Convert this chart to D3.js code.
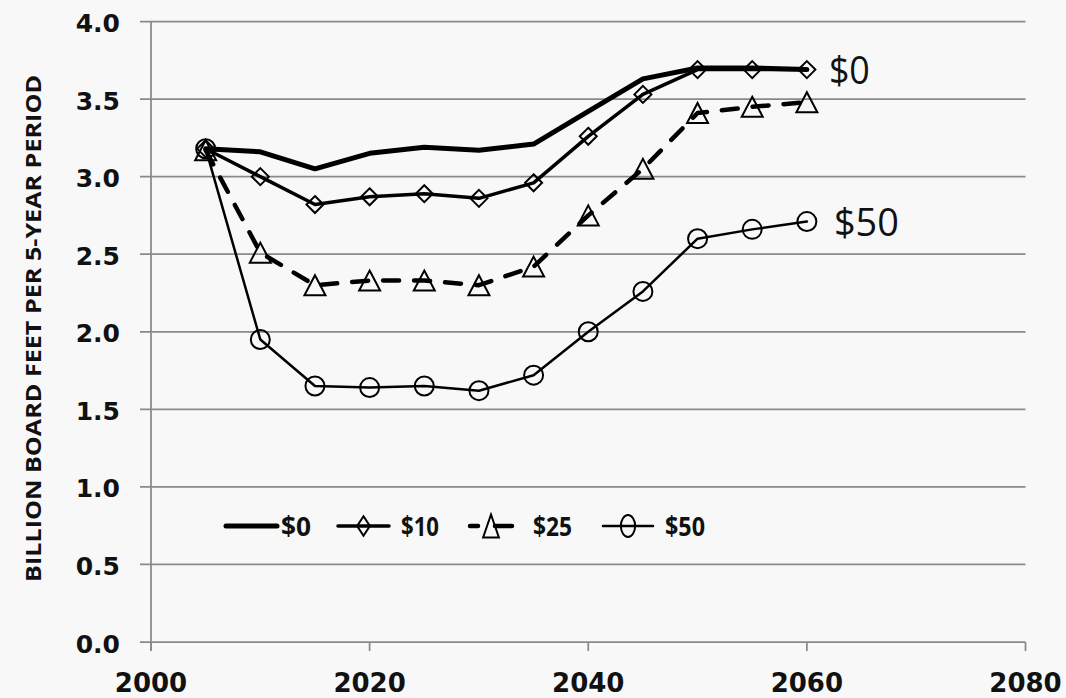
<!DOCTYPE html>
<html>
<head>
<meta charset="utf-8">
<script src="https://cdn.jsdelivr.net/npm/d3@7"></script>
<style>
  html, body { margin: 0; padding: 0; background: #f8f8f8; }
  svg { display: block; }
</style>
</head>
<body>
<svg id="chart" width="1066" height="698"></svg>
<script>
const years = [2005, 2010, 2015, 2020, 2025, 2030, 2035, 2040, 2045, 2050, 2055, 2060];
const s0  = [3.18, 3.16, 3.05, 3.15, 3.19, 3.17, 3.21, 3.42, 3.63, 3.70, 3.70, 3.69];
const s10 = [3.18, 3.00, 2.82, 2.87, 2.89, 2.86, 2.96, 3.26, 3.53, 3.69, 3.69, 3.69];
const s25 = [3.17, 2.51, 2.30, 2.33, 2.33, 2.30, 2.42, 2.75, 3.05, 3.41, 3.45, 3.48];
const s50 = [3.18, 1.95, 1.65, 1.64, 1.65, 1.62, 1.72, 2.00, 2.26, 2.60, 2.66, 2.71];
const seriesNames = ["$0", "$10", "$25", "$50"];
const xTicks = [2000, 2020, 2040, 2060, 2080];
const yTicks = [0, 0.5, 1.0, 1.5, 2.0, 2.5, 3.0, 3.5, 4.0];
const yTitle = "BILLION BOARD FEET PER 5-YEAR PERIOD";

const svg = d3.select("#chart");
const x = d3.scaleLinear().domain([2000, 2080]).range([151, 1025.5]);
const y = d3.scaleLinear().domain([0, 4]).range([642, 21.5]);

const gridColor = "#8a8a8a";

// gridlines
svg.append("g").selectAll("line").data(yTicks).join("line")
  .attr("x1", 140).attr("x2", x(2080))
  .attr("y1", d => y(d)).attr("y2", d => y(d))
  .attr("stroke", gridColor).attr("stroke-width", 1.75);

// y axis line
svg.append("line").attr("x1", x(2000)).attr("x2", x(2000))
  .attr("y1", y(4)).attr("y2", 651)
  .attr("stroke", gridColor).attr("stroke-width", 1.75);

// x ticks
svg.append("g").selectAll("line").data(xTicks).join("line")
  .attr("x1", d => x(d)).attr("x2", d => x(d))
  .attr("y1", y(0)).attr("y2", 651)
  .attr("stroke", gridColor).attr("stroke-width", 1.75);

// y tick labels
svg.append("g").selectAll("text").data(yTicks).join("text")
  .attr("x", 120).attr("y", d => y(d) + 2)
  .attr("text-anchor", "end").attr("dominant-baseline", "central")
  .attr("font-family", "DejaVu Sans").attr("font-weight", "bold")
  .attr("font-size", 25).attr("fill", "#111")
  .text(d => d.toFixed(1));

// x tick labels
svg.append("g").selectAll("text").data(xTicks).join("text")
  .attr("x", d => x(d)).attr("y", 692)
  .attr("text-anchor", "middle")
  .attr("font-family", "DejaVu Sans").attr("font-weight", "bold")
  .attr("font-size", 26).attr("fill", "#111")
  .text(d => d);

// y title
svg.append("text")
  .attr("transform", "translate(41,328.5) rotate(-90)")
  .attr("text-anchor", "middle")
  .attr("font-family", "Open Sans").attr("font-weight", "bold")
  .attr("font-size", 21).attr("fill", "#111")
  .attr("textLength", 507).attr("lengthAdjust", "spacingAndGlyphs")
  .text(yTitle);

const line = d3.line().x((d, i) => x(years[i])).y(d => y(d));

const styles = [
  { data: s0,  w: 5,   dash: null,    marker: null },
  { data: s10, w: 3.5, dash: null,    marker: "diamond" },
  { data: s25, w: 4.5, dash: "16,15", marker: "triangle" },
  { data: s50, w: 2.5, dash: null,    marker: "circle" }
];

function markerPath(type, sx, sy) {
  sx = sx || 1; sy = sy || 1;
  if (type === "diamond") {
    const a = 8.5;
    return `M0,${-a*sy}L${a*sx},0L0,${a*sy}L${-a*sx},0Z`;
  }
  if (type === "triangle") {
    const h = 20, w = 21;
    return `M0,${-h/2*sy}L${w/2*sx},${h/2*sy}L${-w/2*sx},${h/2*sy}Z`;
  }
  if (type === "circle") {
    const r = 9.5;
    return `M${-r*sx},0A${r*sx},${r*sy} 0 1,0 ${r*sx},0A${r*sx},${r*sy} 0 1,0 ${-r*sx},0Z`;
  }
  return "";
}

// draw from back to front: $50, $25, $10, $0
[3, 2, 1, 0].forEach(k => {
  const st = styles[k];
  const g = svg.append("g");
  g.append("path").datum(st.data)
    .attr("d", line)
    .attr("fill", "none").attr("stroke", "#000")
    .attr("stroke-width", st.w)
    .attr("stroke-linejoin", "round")
    .attr("stroke-linecap", "round")
    .attr("stroke-dasharray", st.dash);
  if (st.marker) {
    g.selectAll("path.m").data(st.data).join("path").attr("class", "m")
      .attr("transform", (d, i) => `translate(${x(years[i])},${y(d)})`)
      .attr("d", markerPath(st.marker))
      .attr("fill", "none").attr("stroke", "#000").attr("stroke-width", 2);
  }
});

// end labels
svg.append("text").attr("x", x(2060) + 22).attr("y", y(s0[11]) + 14)
  .attr("font-family", "Open Sans").attr("font-size", 39).attr("fill", "#111")
  .attr("textLength", 41).attr("lengthAdjust", "spacingAndGlyphs")
  .text(seriesNames[0]);
svg.append("text").attr("x", x(2060) + 27).attr("y", y(s50[11]) + 14)
  .attr("font-family", "Open Sans").attr("font-size", 39).attr("fill", "#111")
  .attr("textLength", 65).attr("lengthAdjust", "spacingAndGlyphs")
  .text(seriesNames[3]);

// legend
const legendItems = [
  { x1: 226, x2: 277, tx: 281, tw: 30 },
  { x1: 338, x2: 389, tx: 401, tw: 38 },
  { x1: 470, x2: 512, tx: 533, tw: 39 },
  { x1: 603, x2: 653, tx: 665, tw: 40 }
];
const ly = 526;
const lg = svg.append("g");
legendItems.forEach((it, k) => {
  const st = styles[k];
  lg.append("line").attr("x1", it.x1).attr("x2", it.x2).attr("y1", ly).attr("y2", ly)
    .attr("stroke", "#000").attr("stroke-width", st.w)
    .attr("stroke-linecap", "round")
    .attr("stroke-dasharray", k === 2 ? "8,17,20" : null);
  if (st.marker) {
    lg.append("path")
      .attr("transform", `translate(${(it.x1 + it.x2) / 2},${ly})`)
      .attr("d", markerPath(st.marker, 0.75, 1.15))
      .attr("fill", "none").attr("stroke", "#000").attr("stroke-width", 2);
  }
  lg.append("text").attr("x", it.tx).attr("y", ly + 10)
    .attr("font-family", "Open Sans").attr("font-weight", "bold")
    .attr("font-size", 26).attr("fill", "#111")
    .attr("textLength", it.tw).attr("lengthAdjust", "spacingAndGlyphs")
    .text(seriesNames[k]);
});
</script>
</body>
</html>
